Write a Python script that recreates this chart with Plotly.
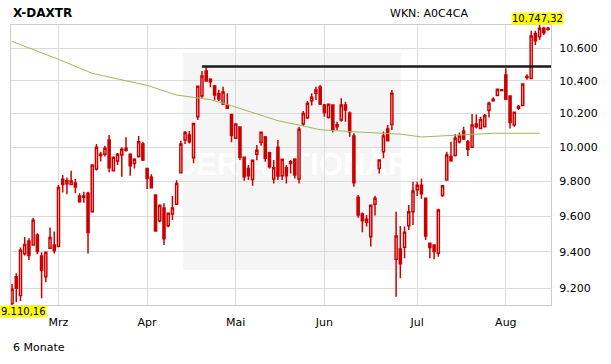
import math
import pandas as pd
import plotly.graph_objects as go

# ---------------- data ----------------
holidays = ["2016-03-25", "2016-03-28", "2016-05-16"]
dates = [d.strftime("%Y-%m-%d") for d in pd.bdate_range("2016-02-15", "2016-08-15")
         if d.strftime("%Y-%m-%d") not in holidays]

opens = [9118, 9264, 9162, 9390, 9461, 9439, 9495, 9378, 9264, 9420, 9439, 9430, 9812, 9786, 9782, 9790,
         9715, 9708, 9731, 9626, 9871, 9950, 9958, 10042, 9862, 9918, 9954, 9981, 9958, 9903, 9944, 10018,
         9875, 9823, 9721, 9575, 9647, 9547, 9613, 9668, 9850, 10042, 10071, 9938, 10181, 10307, 10460, 10408,
         10368, 10321, 10258, 10252, 10195, 10052, 10119, 9940, 9875, 9811, 9958, 10028, 10060, 9967, 9813, 9999,
         9833, 9879, 9903, 9928, 9813, 10137, 10175, 10278, 10323, 10361, 10252, 10177, 10252, 10133, 10161, 10252,
         10204, 10066, 9709, 9613, 9566, 9485, 9668, 9875, 9973, 10107, 10135, 9360, 9417, 9426, 9547, 9626,
         9751, 9778, 9702, 9448, 9439, 9393, 9719, 9808, 9944, 9950, 10032, 10096, 10032, 9999, 10137, 10111,
         10121, 10218, 10286, 10309, 10339, 10435, 10307, 10131, 10242, 10248, 10425, 10413, 10694, 10673, 10726, 10720]
highs = [9224, 9282, 9424, 9483, 9476, 9592, 9504, 9398, 9400, 9536, 9514, 9779, 9837, 9822, 9862, 9814,
         9731, 9740, 9740, 9897, 10018, 9973, 10008, 10071, 9944, 9966, 9999, 10058, 9964, 9934, 10066, 10032,
         9877, 9841, 9723, 9663, 9674, 9618, 9715, 9806, 10038, 10096, 10096, 10142, 10367, 10460, 10487, 10415,
         10374, 10345, 10363, 10323, 10197, 10139, 10121, 9941, 9895, 9923, 10012, 10089, 10066, 9973, 9924, 10042,
         9930, 9895, 9924, 9934, 10121, 10216, 10276, 10323, 10363, 10374, 10258, 10257, 10253, 10151, 10292, 10272,
         10212, 10082, 9721, 9622, 9607, 9663, 9717, 9926, 10092, 10131, 10343, 9626, 9545, 9542, 9664, 9798,
         9797, 9817, 9702, 9450, 9441, 9642, 9779, 9973, 10032, 10078, 10086, 10121, 10042, 10197, 10195, 10181,
         10197, 10272, 10298, 10351, 10347, 10476, 10308, 10209, 10252, 10381, 10439, 10711, 10711, 10747.32, 10737, 10737]
lows = [9110.16, 9125, 9132, 9380, 9356, 9435, 9387, 9146, 9233, 9417, 9391, 9428, 9736, 9725, 9779, 9731,
        9677, 9677, 9391, 9620, 9863, 9915, 9944, 9852, 9858, 9895, 9827, 9973, 9833, 9875, 9938, 9918,
        9756, 9759, 9515, 9566, 9439, 9538, 9579, 9664, 9849, 10018, 10022, 9905, 10161, 10296, 10394, 10359,
        10280, 10276, 10252, 10228, 10028, 10050, 9924, 9804, 9808, 9775, 9922, 10008, 9914, 9875, 9788, 9808,
        9808, 9788, 9846, 9817, 9788, 10127, 10167, 10248, 10282, 10252, 10181, 10171, 10087, 10101, 10151, 10151,
        10062, 9769, 9592, 9510, 9542, 9430, 9604, 9846, 9934, 10037, 10101, 9155, 9255, 9365, 9523, 9551,
        9715, 9700, 9467, 9365, 9360, 9374, 9711, 9804, 9914, 9944, 10022, 10042, 9948, 9997, 10111, 10110,
        10120, 10177, 10272, 10305, 10333, 10285, 10111, 10121, 10222, 10246, 10405, 10412, 10621, 10652, 10684, 10711]
closes = [9195, 9200, 9409, 9442, 9380, 9577, 9402, 9297, 9398, 9481, 9407, 9765, 9782, 9804, 9802, 9767,
          9683, 9715, 9508, 9895, 9999, 9958, 9993, 9879, 9940, 9958, 9987, 9993, 9891, 9928, 10032, 9924,
          9817, 9763, 9517, 9662, 9474, 9617, 9647, 9788, 10018, 10087, 10032, 10141, 10366, 10429, 10398, 10394,
          10313, 10288, 10331, 10232, 10068, 10137, 9940, 9827, 9833, 9922, 9981, 10088, 9934, 9885, 9879, 9831,
          9928, 9833, 9914, 9837, 10106, 10201, 10262, 10298, 10343, 10258, 10207, 10256, 10101, 10121, 10252, 10222,
          10091, 9792, 9607, 9575, 9583, 9662, 9702, 9924, 10066, 10038, 10323, 9489, 9335, 9510, 9626, 9744,
          9778, 9728, 9489, 9425, 9402, 9636, 9774, 9953, 9920, 10052, 10066, 10048, 9987, 10131, 10121, 10165,
          10189, 10262, 10278, 10347, 10345, 10286, 10147, 10208, 10232, 10380, 10419, 10678, 10648, 10726, 10699, 10726]

# 200-day moving average (read at sample days)
ma_dates = ["2016-02-15", "2016-03-01", "2016-03-11", "2016-04-01", "2016-04-12", "2016-04-22",
            "2016-04-29", "2016-05-09", "2016-05-17", "2016-05-24", "2016-05-31", "2016-06-14",
            "2016-06-27", "2016-07-04", "2016-07-18", "2016-07-27", "2016-08-11"]
ma_values = [10644, 10532, 10445, 10371, 10312, 10284, 10247, 10199, 10157, 10131, 10103, 10088,
             10077, 10060, 10073, 10082, 10082]

resistance_level = 10488
resistance_from = "2016-04-20"

month_ticks = ["2016-03-01", "2016-04-01", "2016-05-02", "2016-06-01", "2016-07-01", "2016-08-01"]
month_labels = ["Mrz", "Apr", "Mai", "Jun", "Jul", "Aug"]
y_ticks = [9200, 9400, 9600, 9800, 10000, 10200, 10400, 10600]

title = "X-DAXTR"
wkn = "WKN: A0C4CA"
period = "6 Monate"
watermark = "DER AKTIONÄR"

y_min = min(lows)
y_max = max(highs)
x_range = [-0.25, len(dates) - 0.3]

RED = "#cc0000"
GRID = "#dadada"
FONT = "DejaVu Sans"

fig = go.Figure()
fig.add_trace(go.Candlestick(
    x=dates, open=opens, high=highs, low=lows, close=closes,
    increasing=dict(line=dict(color=RED, width=1.5), fillcolor="#ffffff"),
    decreasing=dict(line=dict(color=RED, width=1.5), fillcolor=RED),
    whiskerwidth=0, showlegend=False, hoverinfo="skip",
))
fig.add_trace(go.Scatter(
    x=ma_dates, y=ma_values, mode="lines",
    line=dict(color="#9bbb59", width=1), showlegend=False, hoverinfo="skip",
))

fig.add_shape(type="rect", xref="paper", yref="paper", x0=0.3185, x1=0.722, y0=0.125, y1=0.9,
              fillcolor="#f5f5f5", line=dict(width=0), layer="below",
              label=dict(text=watermark, font=dict(color="#ffffff", size=31,
                                                   family="Liberation Sans Narrow, Liberation Sans",
                                                   weight="bold"),
                         textposition="middle center"))
fig.add_shape(type="line", xref="x", yref="y",
              x0=dates.index(resistance_from), x1=x_range[1],
              y0=resistance_level, y1=resistance_level,
              line=dict(color="#1a1a1a", width=2.5))

fig.add_annotation(text="<b>" + title + "</b>", xref="paper", yref="paper", x=0.0, y=1.0436,
                   xanchor="left", yanchor="middle", showarrow=False,
                   font=dict(family=FONT, size=12, color="#000"))
fig.add_annotation(text=wkn, xref="paper", yref="paper", x=0.698, y=1.0393,
                   xanchor="left", yanchor="middle", showarrow=False,
                   font=dict(family=FONT, size=11, color="#000"))
fig.add_annotation(text=f"{y_max:,.2f}".replace(",", "X").replace(".", ",").replace("X", "."),
                   xref="paper", yref="paper", x=0.975, y=1.0,
                   xanchor="center", yanchor="bottom", showarrow=False, bgcolor="#ffff00", borderpad=0,
                   font=dict(family=FONT, size=10, color="#000"))
fig.add_annotation(text=f"{y_min:,.2f}".replace(",", "X").replace(".", ",").replace("X", "."),
                   xref="paper", yref="paper", x=-11 / 540, y=0.0,
                   xanchor="left", yanchor="top", showarrow=False, bgcolor="#ffff00", borderpad=0,
                   font=dict(family=FONT, size=10, color="#000"))
fig.add_annotation(text=period, xref="paper", yref="paper", x=0.0, y=-0.15,
                   xanchor="left", yanchor="middle", showarrow=False,
                   font=dict(family=FONT, size=11, color="#000"))

fig.update_layout(
    width=611, height=364,
    margin=dict(l=11, r=60, t=25, b=59),
    paper_bgcolor="#ffffff", plot_bgcolor="#ffffff",
    separators=",.",
    showlegend=False, hovermode=False,
    font=dict(family=FONT, size=11, color="#000"),
    xaxis=dict(type="category", categoryorder="array", categoryarray=dates,
               range=x_range, tickvals=month_ticks, ticktext=month_labels,
               showgrid=True, gridcolor=GRID, gridwidth=1,
               showline=True, linecolor="#cccccc", mirror=True, ticks="",
               ticklabelstandoff=7, rangeslider=dict(visible=False), zeroline=False,
               tickfont=dict(family=FONT, size=11, color="#000")),
    yaxis=dict(type="log", side="right",
               range=[math.log10(y_min), math.log10(y_max)],
               tickvals=y_ticks, tickformat=",.0f",
               showgrid=True, gridcolor=GRID, gridwidth=1,
               showline=True, linecolor="#cccccc", mirror=True, ticks="",
               ticklabelstandoff=5, zeroline=False,
               tickfont=dict(family=FONT, size=11, color="#000")),
)

fig.write_html("out.html")
